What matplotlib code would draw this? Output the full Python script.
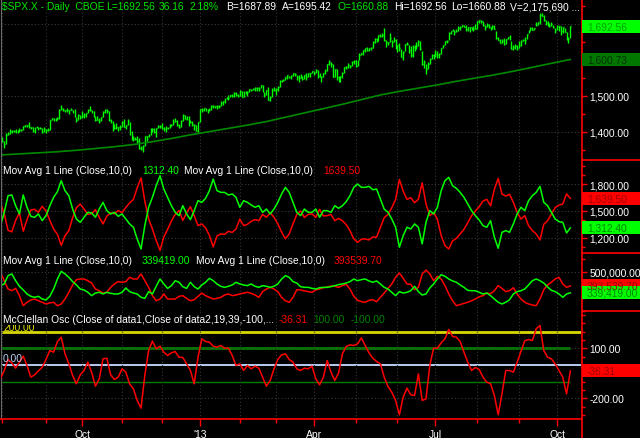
import numpy as np
import pandas as pd
import matplotlib
matplotlib.use("Agg")
import matplotlib.pyplot as plt
from matplotlib.patches import Rectangle
from matplotlib.lines import Line2D
from matplotlib.transforms import IdentityTransform
from matplotlib.ticker import FixedLocator, MultipleLocator, FuncFormatter

plt.rcParams['font.family'] = ['Liberation Sans', 'DejaVu Sans']

# ---- data -------------------------------------------------------------
holidays = ['2012-09-03', '2012-10-29', '2012-10-30', '2012-11-22', '2012-12-25',
            '2013-01-01', '2013-01-21', '2013-02-18', '2013-03-29', '2013-05-27',
            '2013-07-04', '2013-09-02']

# daily $SPX.X, 30 Jul 2012 .. 10 Oct 2013
close = [
    1385.30, 1379.32,
    1375.14, 1365.00, 1390.99, 1394.23, 1401.35, 1402.22, 1402.80, 1405.87, 1404.11, 1403.93,
    1405.53, 1415.51, 1418.16, 1418.13, 1413.17, 1413.49, 1402.08, 1411.13, 1410.44, 1409.30,
    1410.49, 1399.48, 1406.58,
    1404.94, 1403.44, 1432.12, 1437.92, 1429.08, 1433.56, 1436.56, 1459.99, 1465.77, 1461.19,
    1459.32, 1461.05, 1460.26, 1460.15, 1456.89, 1441.59, 1433.32, 1447.15, 1440.67,
    1444.49, 1445.75, 1450.99, 1461.40, 1460.93, 1455.88, 1441.48, 1432.56, 1432.84, 1428.59,
    1440.13, 1454.92, 1460.91, 1457.34, 1433.19, 1433.82, 1413.11, 1408.75, 1412.97, 1411.94,
    1412.16,
    1427.59, 1414.20, 1417.26, 1428.39, 1394.53, 1377.51, 1379.85, 1380.03, 1374.53, 1355.49,
    1353.33, 1359.88, 1386.89, 1387.81, 1391.03, 1409.15, 1406.29, 1398.94, 1409.93, 1415.95,
    1416.18,
    1409.46, 1407.05, 1409.28, 1413.94, 1418.07, 1418.55, 1427.84, 1428.48, 1419.45, 1413.58,
    1430.36, 1446.79, 1435.81, 1443.69, 1430.15, 1426.66, 1419.83, 1418.10, 1402.43, 1426.19,
    1462.42, 1459.37, 1466.47, 1461.89, 1457.15, 1461.02, 1472.12, 1472.05, 1470.68, 1472.34,
    1472.63, 1480.94, 1485.98, 1492.56, 1494.81, 1494.82, 1502.96, 1500.18, 1507.84, 1501.96,
    1498.11,
    1513.17, 1495.71, 1511.29, 1512.12, 1509.39, 1517.93, 1517.01, 1519.43, 1520.33, 1521.38,
    1519.79, 1530.94, 1511.95, 1502.42, 1515.60, 1487.85, 1496.94, 1515.99, 1514.68,
    1518.20, 1525.20, 1539.79, 1541.46, 1544.26, 1551.18, 1556.22, 1552.48, 1554.52, 1563.23,
    1560.70, 1552.10, 1548.34, 1558.71, 1545.80, 1556.89, 1551.69, 1563.77, 1562.85, 1569.19,
    1562.17, 1570.25, 1553.69, 1559.98, 1553.28, 1563.07, 1568.61, 1587.73, 1593.37, 1588.85,
    1552.36, 1574.57, 1552.01, 1541.61, 1555.25, 1562.50, 1578.78, 1578.79, 1585.16, 1582.24,
    1593.61, 1597.57,
    1582.70, 1597.59, 1614.42, 1617.50, 1625.96, 1632.69, 1626.67, 1633.70, 1633.77, 1650.34,
    1658.78, 1650.47, 1667.47, 1666.29, 1669.16, 1655.35, 1650.51, 1649.60, 1660.06, 1648.36,
    1654.41, 1630.74,
    1640.42, 1631.38, 1608.90, 1622.56, 1643.38, 1642.81, 1626.13, 1612.52, 1636.36, 1626.73,
    1639.04, 1651.81, 1628.93, 1588.19, 1592.43, 1573.09, 1588.03, 1603.26, 1613.20, 1606.28,
    1614.96, 1614.08, 1615.41, 1631.89, 1640.46, 1652.32, 1652.62, 1675.02, 1680.19, 1682.50,
    1676.26, 1680.91, 1689.37, 1692.09, 1695.53, 1692.39, 1685.94, 1690.25, 1691.65, 1685.33,
    1685.96, 1685.73,
    1706.87, 1709.67, 1707.14, 1697.37, 1690.91, 1697.48, 1691.42, 1689.47, 1694.16, 1685.39,
    1661.32, 1655.83, 1646.06, 1652.35, 1642.80, 1656.96, 1663.50, 1656.78, 1630.48, 1634.96,
    1638.17, 1632.97,
    1639.77, 1653.08, 1655.08, 1655.17, 1671.71, 1683.99, 1689.13, 1683.42, 1687.99, 1697.60,
    1704.76, 1725.52, 1722.34, 1709.91, 1701.84, 1697.42, 1692.77, 1698.67, 1691.75, 1681.55,
    1695.00, 1693.87, 1678.66, 1690.50, 1676.12, 1655.45, 1656.40, 1692.56,
]
high = [
    1392, 1388,
    1385, 1375, 1395, 1399, 1407, 1404, 1405, 1406, 1405, 1410, 1407, 1417, 1419, 1418, 1426,
    1414, 1413, 1413, 1416, 1413, 1414, 1410, 1414,
    1408, 1409, 1433, 1438, 1438, 1438, 1440, 1464, 1475, 1466, 1461, 1465, 1461, 1467, 1460,
    1464, 1442, 1450, 1446,
    1457, 1451, 1451, 1462, 1470, 1461, 1456, 1443, 1443, 1439, 1441, 1456, 1462, 1464, 1458,
    1435, 1430, 1421, 1425, 1414, 1419,
    1429, 1434, 1419, 1434, 1428, 1403, 1389, 1384, 1388, 1381, 1360, 1362, 1387, 1389, 1392,
    1410, 1409, 1409, 1410, 1419, 1419,
    1423, 1414, 1415, 1414, 1420, 1422, 1435, 1439, 1431, 1420, 1431, 1448, 1447, 1444, 1443,
    1431, 1429, 1422, 1418, 1427,
    1463, 1465, 1467, 1466, 1462, 1465, 1473, 1473, 1472, 1473, 1473, 1485, 1486, 1493, 1496,
    1502, 1503, 1504, 1509, 1510, 1505,
    1515, 1513, 1514, 1513, 1513, 1518, 1519, 1521, 1525, 1523, 1524, 1531, 1530, 1511, 1516,
    1525, 1499, 1520, 1525,
    1520, 1526, 1544, 1545, 1546, 1553, 1557, 1556, 1557, 1564, 1564, 1557, 1558, 1561, 1556,
    1557, 1564, 1564, 1564, 1570,
    1570, 1573, 1571, 1562, 1554, 1564, 1574, 1589, 1598, 1593, 1589, 1575, 1574, 1554, 1556,
    1566, 1580, 1583, 1592, 1586, 1597, 1598,
    1598, 1598, 1618, 1619, 1626, 1633, 1636, 1634, 1636, 1651, 1661, 1660, 1668, 1672, 1675,
    1687, 1654, 1650, 1674, 1655, 1664, 1659,
    1641, 1647, 1631, 1623, 1644, 1648, 1640, 1637, 1640, 1641, 1649, 1654, 1652, 1625, 1599,
    1589, 1593, 1606, 1616, 1615,
    1626, 1624, 1618, 1633, 1642, 1653, 1655, 1676, 1681, 1685, 1684, 1685, 1693, 1693, 1697,
    1698, 1698, 1691, 1692, 1692, 1694, 1699,
    1707, 1710, 1710, 1708, 1697, 1701, 1700, 1691, 1697, 1696, 1679, 1664, 1659, 1658, 1660,
    1659, 1664, 1669, 1652, 1641, 1645, 1640,
    1651, 1655, 1657, 1664, 1673, 1684, 1690, 1690, 1689, 1705, 1705, 1729, 1730, 1725, 1711,
    1707, 1701, 1704, 1697, 1688,
    1697, 1694, 1693, 1691, 1688, 1677, 1663, 1692.56,
]
low = [
    1381, 1378,
    1371, 1354, 1366, 1391, 1394, 1396, 1398, 1395, 1397, 1400, 1401, 1404, 1414, 1412, 1410,
    1406, 1400, 1397, 1409, 1404, 1406, 1397, 1398,
    1396, 1401, 1404, 1431, 1429, 1429, 1433, 1435, 1460, 1456, 1454, 1455, 1450, 1460, 1452,
    1441, 1428, 1433, 1435,
    1439, 1439, 1441, 1451, 1458, 1453, 1441, 1430, 1431, 1425, 1429, 1440, 1452, 1453, 1430,
    1423, 1403, 1407, 1406, 1403, 1405,
    1413, 1414, 1408, 1418, 1391, 1377, 1373, 1377, 1369, 1353, 1348, 1343, 1360, 1375, 1386,
    1391, 1398, 1397, 1386, 1410, 1411,
    1408, 1403, 1398, 1407, 1410, 1416, 1418, 1426, 1415, 1411, 1413, 1430, 1435, 1432, 1416,
    1425, 1417, 1404, 1402, 1398,
    1426, 1455, 1457, 1456, 1451, 1457, 1461, 1467, 1466, 1463, 1467, 1472, 1475, 1481, 1490,
    1489, 1495, 1496, 1496, 1499, 1496,
    1498, 1495, 1495, 1505, 1498, 1509, 1513, 1515, 1514, 1514, 1514, 1520, 1511, 1497, 1503,
    1487, 1485, 1497, 1514,
    1501, 1512, 1525, 1538, 1540, 1544, 1546, 1548, 1547, 1554, 1555, 1543, 1538, 1549, 1543,
    1546, 1545, 1551, 1553, 1562,
    1558, 1562, 1550, 1552, 1539, 1553, 1561, 1569, 1586, 1581, 1552, 1553, 1543, 1537, 1539,
    1549, 1563, 1574, 1578, 1578, 1582, 1587,
    1581, 1583, 1598, 1612, 1614, 1622, 1623, 1623, 1626, 1633, 1647, 1648, 1652, 1664, 1662,
    1651, 1636, 1640, 1649, 1636, 1648, 1630,
    1622, 1623, 1608, 1598, 1623, 1640, 1619, 1609, 1608, 1623, 1631, 1639, 1628, 1585, 1577,
    1560, 1574, 1589, 1603, 1601,
    1608, 1604, 1604, 1616, 1634, 1641, 1646, 1656, 1673, 1679, 1670, 1676, 1681, 1684, 1692,
    1691, 1681, 1679, 1676, 1682, 1680, 1685,
    1686, 1701, 1703, 1693, 1684, 1692, 1688, 1684, 1686, 1685, 1658, 1654, 1646, 1646, 1640,
    1643, 1657, 1656, 1630, 1627, 1630, 1627,
    1633, 1637, 1652, 1645, 1658, 1675, 1681, 1682, 1682, 1693, 1697, 1700, 1721, 1708, 1698,
    1695, 1691, 1693, 1688, 1674,
    1682, 1680, 1670, 1674, 1676, 1655, 1646, 1660.88,
]
# 200-bar average, read every 10th bar
ma200 = [1335, 1338, 1341, 1344, 1348, 1353, 1358, 1364, 1372, 1381, 1391, 1400, 1409, 1418,
         1428, 1440, 1452, 1464, 1476, 1489, 1502, 1512, 1521, 1530, 1540, 1549, 1558, 1568,
         1579, 1590, 1600.73]

# indicator panels, read every 2nd bar
adv_ma = [
    1337, 1485, 1670, 1678, 1559, 1467, 1678, 1541, 1441, 1430,
    1467, 1393, 1448, 1559, 1652, 1715, 1837, 1726, 1670, 1522,
    1411, 1374, 1430, 1485, 1478, 1430, 1522, 1596, 1504, 1467,
    1485, 1441, 1467, 1411, 1356, 1319, 1189, 1078, 1337, 1541,
    1652, 1781, 1892, 1744, 1652, 1559, 1485, 1448, 1559, 1467,
    1404, 1504, 1615, 1596, 1641, 1726, 1855, 1726, 1707, 1707,
    1678, 1689, 1652, 1541, 1615, 1596, 1567, 1541, 1559, 1485,
    1522, 1467, 1522, 1596, 1689, 1763, 1707, 1596, 1485, 1448,
    1522, 1485, 1485, 1522, 1430, 1504, 1504, 1485, 1559, 1530,
    1559, 1604, 1670, 1763, 1800, 1763, 1763, 1774, 1737, 1744,
    1633, 1522, 1485, 1411, 1319, 1097, 1226, 1319, 1300, 1356,
    1319, 1134, 1374, 1504, 1467, 1541, 1726, 1837, 1874, 1781,
    1752, 1707, 1652, 1578, 1504, 1448, 1400, 1337, 1319, 1393,
    1208, 1086, 1263, 1282, 1263, 1356, 1467, 1541, 1504, 1615,
    1670, 1707, 1774, 1596, 1559, 1485, 1411, 1382, 1374, 1256,
    1312.40,
]
dec_ma = [
    1590, 1470, 1285, 1268, 1395, 1480, 1275, 1405, 1512, 1518,
    1486, 1552, 1500, 1395, 1300, 1240, 1118, 1226, 1282, 1425,
    1536, 1578, 1522, 1462, 1470, 1515, 1430, 1356, 1442, 1480,
    1468, 1505, 1480, 1540, 1590, 1628, 1758, 1868, 1610, 1412,
    1300, 1172, 1062, 1210, 1296, 1388, 1462, 1505, 1395, 1480,
    1548, 1448, 1338, 1356, 1312, 1228, 1100, 1222, 1245, 1240,
    1275, 1262, 1300, 1410, 1338, 1352, 1385, 1405, 1392, 1462,
    1430, 1480, 1430, 1358, 1265, 1190, 1245, 1356, 1462, 1500,
    1428, 1462, 1468, 1430, 1518, 1446, 1448, 1462, 1392, 1418,
    1392, 1348, 1282, 1190, 1152, 1186, 1190, 1178, 1212, 1208,
    1318, 1426, 1462, 1536, 1628, 1850, 1722, 1630, 1648, 1592,
    1630, 1812, 1578, 1448, 1482, 1410, 1226, 1115, 1078, 1168,
    1196, 1245, 1296, 1370, 1448, 1500, 1548, 1610, 1630, 1558,
    1740, 1862, 1688, 1666, 1686, 1595, 1485, 1410, 1448, 1336,
    1282, 1245, 1178, 1352, 1392, 1466, 1538, 1566, 1578, 1690,
    1639.50,
]
# volumes in thousands
upvol_ma = [
    395, 408, 472, 485, 433, 390, 362, 331, 313, 305,
    313, 292, 285, 313, 369, 446, 505, 485, 459, 426,
    400, 369, 362, 344, 318, 338, 344, 331, 344, 336,
    331, 331, 344, 377, 349, 338, 331, 305, 297, 349,
    331, 390, 446, 408, 374, 395, 433, 421, 387, 374,
    421, 387, 369, 400, 421, 451, 433, 408, 390, 382,
    390, 400, 421, 408, 400, 395, 408, 390, 382, 395,
    390, 382, 390, 408, 446, 472, 459, 426, 415, 387,
    382, 382, 374, 369, 379, 382, 382, 387, 395, 403,
    408, 415, 426, 446, 433, 441, 446, 431, 421, 431,
    408, 382, 369, 344, 318, 349, 338, 344, 356, 390,
    349, 323, 331, 377, 408, 446, 479, 467, 446, 431,
    421, 400, 382, 359, 356, 356, 344, 331, 338, 318,
    292, 267, 254, 267, 287, 331, 349, 356, 369, 400,
    433, 446, 433, 415, 385, 359, 349, 331, 305, 331,
    339.419,
]
dnvol_ma = [
    497, 433, 369, 356, 374, 318, 241, 267, 285, 292,
    279, 267, 254, 262, 267, 241, 254, 292, 344, 400,
    441, 446, 446, 433, 415, 369, 356, 338, 344, 382,
    408, 426, 421, 426, 459, 446, 446, 485, 433, 382,
    318, 279, 292, 331, 292, 292, 292, 313, 318, 297,
    279, 287, 313, 338, 318, 305, 292, 297, 305, 323,
    331, 318, 323, 331, 338, 344, 336, 323, 305, 349,
    369, 382, 369, 349, 305, 279, 267, 305, 364, 362,
    354, 349, 344, 362, 369, 379, 385, 392, 390, 382,
    395, 405, 369, 313, 282, 272, 267, 282, 287, 272,
    305, 338, 374, 408, 459, 492, 451, 408, 405, 364,
    382, 485, 515, 485, 433, 467, 446, 395, 331, 279,
    241, 249, 259, 267, 279, 292, 310, 318, 338, 333,
    356, 395, 374, 349, 356, 379, 331, 292, 267, 254,
    246, 241, 292, 364, 400, 421, 446, 459, 408, 382,
    393.5397,
]
mcclellan = [
    -84, -34, 32, 12, -20, 16, 52, -4, -74, -60,
    -36, -14, 32, 86, 76, 140, 166, 66, 6, -64,
    -114, -60, -34, 16, -44, -128, -84, 36, 40, -60,
    -88, -74, -24, -44, -114, -144, -214, -260, -64, 86,
    142, 96, 112, 76, 56, 72, 80, 46, 44, 6,
    -34, -114, 46, 156, 140, 136, 112, 106, 116, 100,
    100, 56, -4, 6, -34, -4, -24, -8, -20, -74,
    -128, -94, -24, 32, 60, 66, 32, 16, -24, -34,
    -20, -24, -8, -84, -120, -74, 26, -44, -94, -48,
    66, 110, 120, 116, 126, 162, 116, 72, 40, 20,
    6, -74, -130, -164, -214, -300, -194, -140, -180, -184,
    -54, -214, -204, -4, 100, 100, 132, 156, 212, 170,
    166, 140, 76, 16, -34, -16, -28, -74, -104, -114,
    -184, -300, -174, -34, -34, -44, 16, 80, 144, 152,
    146, 216, 236, 86, 46, 36, 6, -34, -74, -174,
    -36.31,
]

# ---- layout -----------------------------------------------------------
W, H = 640, 439
FS = 7.4
GREEN, RED, WHITE = '#00ff00', '#ff0000', 'white'

days = pd.bdate_range('2012-07-30', periods=len(close), freq='C', holidays=holidays)
xd = np.arange(len(close))
xi = np.arange(1, len(close), 2)          # bars of the indicator readings
xm = np.arange(1, len(close), 10)         # bars of the 200-bar average readings
upvol = np.array(upvol_ma) * 1000
dnvol = np.array(dnvol_ma) * 1000

month_starts = [i for i in range(1, len(days)) if days[i].month != days[i - 1].month]
quarter_starts = [i for i in month_starts if days[i].month in (1, 4, 7, 10)]
quarter_labels = ["'" + days[i].strftime('%y') if days[i].month == 1 else days[i].strftime('%b')
                  for i in quarter_starts]

fig = plt.figure(figsize=(W / 100, H / 100), dpi=100, facecolor='black')
money = FuncFormatter(lambda v, p: f'{v:,.2f}')


def panel(top, bottom, ylim):
    ax = fig.add_axes([1 / W, 1 - bottom / H, 580 / W, (bottom - top) / H], facecolor='black')
    for s in ax.spines.values():
        s.set_visible(False)
    ax.spines['left'].set_visible(True)
    ax.spines['left'].set_color('#6a6a6a')
    ax.set_xlim(1.3, 306.6)
    ax.set_ylim(*ylim)
    ax.yaxis.tick_right()
    ax.yaxis.set_major_formatter(money)
    ax.tick_params(axis='y', which='both', colors=RED, labelcolor=WHITE, labelsize=FS,
                   direction='out', width=1, pad=2)
    ax.tick_params(axis='y', which='major', length=4)
    ax.tick_params(axis='y', which='minor', length=3)
    ax.xaxis.set_major_locator(FixedLocator(quarter_starts))
    ax.xaxis.set_minor_locator(FixedLocator(month_starts))
    ax.tick_params(axis='x', which='both', length=0, labelbottom=False)
    ax.grid(True, which='both', axis='x', color='#333333', linestyle=(0, (1, 2)), linewidth=0.8)
    ax.grid(True, which='major', axis='y', color='#3a3a3a', linestyle=(0, (1, 2)), linewidth=0.8)
    return ax


ax1 = panel(0, 161, (1321, 1769))
ax2 = panel(161, 254, (1033, 2067))
ax3 = panel(254, 312, (200000, 646000))
ax4 = panel(312, 420, (-325, 323))

# 1,600 sits fully under the average's value box, so only the others get labels
ax1.yaxis.set_major_locator(FixedLocator([1400, 1500, 1700]))
ax1.yaxis.set_minor_locator(MultipleLocator(50))
ax2.yaxis.set_major_locator(FixedLocator([1200, 1500, 1800]))
ax2.yaxis.set_minor_locator(MultipleLocator(100))
ax3.yaxis.set_major_locator(FixedLocator([500000]))
ax3.yaxis.set_minor_locator(MultipleLocator(100000))
ax4.yaxis.set_major_locator(FixedLocator([-200, 100]))
ax4.yaxis.set_minor_locator(MultipleLocator(50))

ax4.set_xticklabels(quarter_labels)
ax4.tick_params(axis='x', which='both', colors=RED, labelcolor=WHITE, labelsize=FS,
                direction='out', width=1, labelbottom=True, pad=2)
ax4.tick_params(axis='x', which='major', length=5)
ax4.tick_params(axis='x', which='minor', length=3)

# price bars + 200 bar average
ax1.vlines(xd, low, high, colors=GREEN, linewidth=1.0)
ax1.hlines(close, xd, xd + 0.45, colors=GREEN, linewidth=1.0)
ax1.plot(xm, ma200, color='#008a00', lw=1.2)

# advances / declines
ax2.plot(xi, dec_ma, color=RED, lw=1.1)
ax2.plot(xi, adv_ma, color=GREEN, lw=1.1)

# up / down volume
ax3.plot(xi, dnvol, color=RED, lw=1.1)
ax3.plot(xi, upvol, color=GREEN, lw=1.1)

# McClellan oscillator
ax4.axhline(200, color='#d8d800', lw=2, zorder=1)
ax4.axhline(0, color='#b8ccf0', lw=1.4, zorder=1)
ax4.hlines(100, 0, xd[-1], colors='#008000', lw=2, zorder=1)
ax4.hlines(-100, 0, xd[-1], colors='#008000', lw=1, zorder=1)
ax4.plot(xi, mcclellan, color=RED, lw=1.1, zorder=3)

# frame lines drawn in pixel space
px = IdentityTransform()
fig.add_artist(Line2D([581.5, 581.5], [0, H], color=RED, lw=1.2, transform=px))
for y in (161, 254, 312):
    fig.add_artist(Line2D([582, W], [H - y, H - y], color=RED, lw=1.2, transform=px))
fig.add_artist(Line2D([0, 582], [H - 420, H - 420], color=RED, lw=1.2, transform=px))


def value_box(ax, v, fc, tc):
    yd = ax.transData.transform((ax.get_xlim()[1], v))[1]
    fig.add_artist(Rectangle((582, yd - 6.5), 58, 13, transform=px, facecolor=fc,
                             edgecolor='none', zorder=5))
    fig.text(587 / W, yd / H, f'{v:,.2f}', color=tc, fontsize=FS, va='center', ha='left',
             zorder=6)


value_box(ax1, close[-1], '#00ff00', '#00a000')
value_box(ax1, ma200[-1], '#007800', '#003000')
value_box(ax2, dec_ma[-1], '#ff0000', '#a00000')
value_box(ax2, adv_ma[-1], '#00ff00', '#008800')
value_box(ax3, dnvol[-1], '#ff0000', '#a00000')
value_box(ax3, upvol[-1], '#00ff00', '#008800')
value_box(ax4, mcclellan[-1], '#ff0000', '#a00000')


def put(x, y, s, color, **kw):
    return fig.text(x / W, 1 - y / H, s, color=color, fontsize=FS, va='center', ha='left', **kw)


# header
chg = close[-1] - close[-2]
put(2, 7.5, '$SPX.X - Daily  CBOE', '#00e600')
put(106, 7.5, f'L={close[-1]:.2f}', '#00e600')
put(159, 7.5, f'{chg:.2f}', '#00e600')
put(189, 7.5, f'{chg / close[-2] * 100:.2f}%', '#00e600')
put(226, 7.5, 'B=1687.89', WHITE)
put(282, 7.5, 'A=1695.42', WHITE)
put(338, 7.5, 'O=1660.88', '#00e600')
put(394, 7.5, f'Hi={high[-1]:.2f}', WHITE)
put(451, 7.5, f'Lo={low[-1]:.2f}', WHITE)
put(510, 7.5, 'V=2,175,690 ...', WHITE)

# indicator titles
put(3, 170.5, 'Mov Avg 1 Line (Close,10,0)', WHITE)
put(142, 170.5, f'{adv_ma[-1]:.2f}', GREEN)
put(184, 170.5, 'Mov Avg 1 Line (Close,10,0)', WHITE)
put(323, 170.5, f'{dec_ma[-1]:.2f}', RED)

put(3, 261.5, 'Mov Avg 1 Line (Close,10,0)', WHITE)
put(142, 261.5, f'{upvol[-1]:.2f}', GREEN)
put(196, 261.5, 'Mov Avg 1 Line (Close,10,0)', WHITE)
put(334, 261.5, f'{dnvol[-1]:.2f}', RED)

put(3, 328.5, '200.00', '#e0e000')
put(3, 359, '0.00', '#b8ccf0')
put(3, 320, 'McClellan Osc (Close of data1,Close of data2,19,39,-100,...', WHITE,
    bbox=dict(facecolor='black', edgecolor='none', pad=0.6))
put(279, 320, f'{mcclellan[-1]:.2f}', RED)
put(313, 320, '100.00', '#008000')
put(351, 320, '-100.00', '#008000')

fig.savefig('out.png', dpi=100, facecolor='black')
